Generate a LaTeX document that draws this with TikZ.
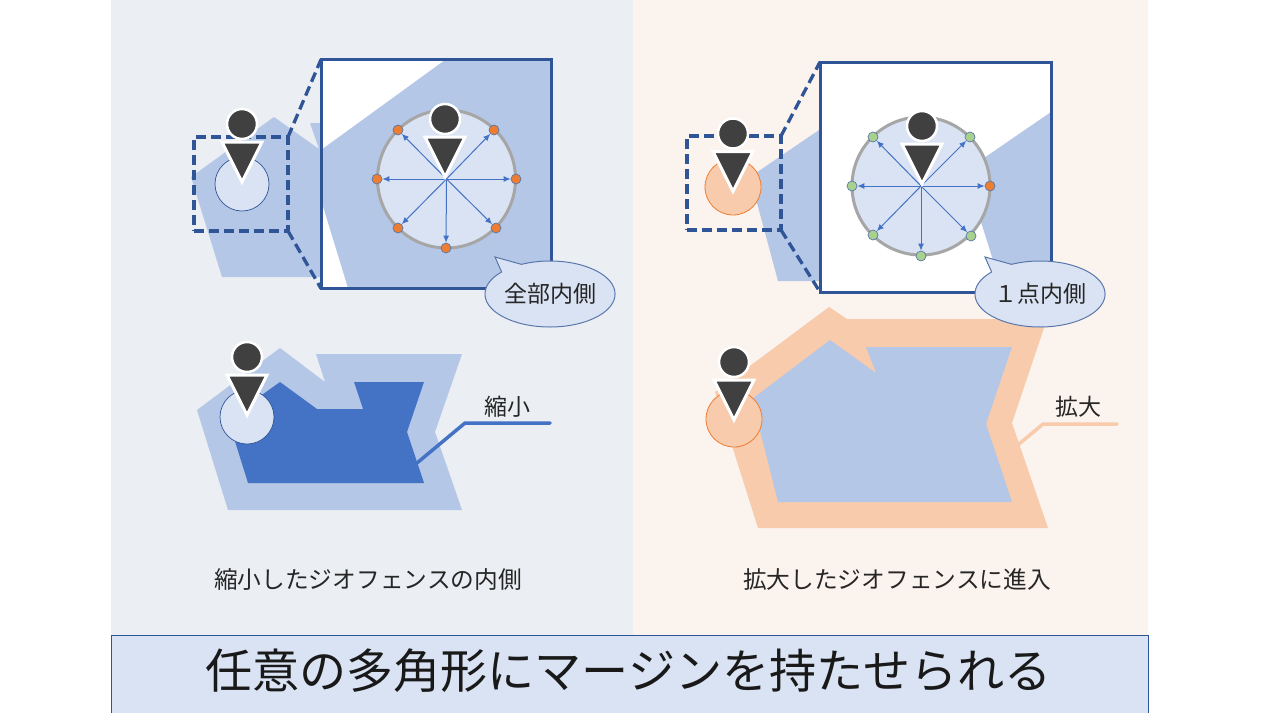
\documentclass[tikz,border=0pt]{standalone}
\usepackage{fontspec}
\setmainfont{Noto Sans CJK JP}
\usetikzlibrary{arrows.meta,shapes.callouts}
\definecolor{panelL}{HTML}{EBEEF3}
\definecolor{panelR}{HTML}{FBF3EE}
\definecolor{zone}{HTML}{B4C7E7}
\definecolor{pale}{HTML}{DAE3F3}
\definecolor{navy}{HTML}{2F5597}
\definecolor{vivid}{HTML}{4472C4}
\definecolor{peach}{HTML}{F8CBAD}
\definecolor{tang}{HTML}{ED7D31}
\definecolor{leaf}{HTML}{A9D18E}
\definecolor{ink}{HTML}{404040}
\newcommand{\txtsize}{\fontsize{23}{28}\selectfont}
\newcommand{\capsize}{\fontsize{23.7}{28}\selectfont}
\newcommand{\person}[3]{
    \node[headdot] (head#1) at (#2,#3-58) {};
    \draw[bodytri] (#2-20,#3-40)--(#2+20,#3-40)--(#2,#3)--cycle;
}
\tikzset{
    lensbox/.style={draw=navy,line width=3.3pt,dash pattern=on 10pt off 5pt,minimum size=94pt,inner sep=0pt,outer sep=0pt},
    zoombox/.style={draw=navy,line width=3pt,inner sep=0pt,outer sep=0pt},
    lensline/.style={draw=navy,line width=3.3pt,dash pattern=on 10pt off 5pt},
    headdot/.style={circle,fill=ink,draw=white,line width=2.5pt,minimum size=30pt,inner sep=0pt},
    bodytri/.style={fill=ink,draw=white,line width=3pt,miter limit=10},
    pale circle/.style={circle,fill=pale,draw=navy,line width=0.7pt,minimum size=54pt,inner sep=0pt},
    peach circle/.style={circle,fill=peach,draw=tang,line width=0.8pt,minimum size=56pt,inner sep=0pt},
    big circle/.style={circle,fill=pale,draw=black!35,line width=3pt,minimum size=138pt,inner sep=0pt},
    probe/.style={circle,draw=navy!80,line width=0.7pt,minimum size=10pt,inner sep=0pt},
    ray/.style={-{Latex[length=7pt,width=6pt]},draw=vivid,line width=1pt},
    bubble/.style={ellipse callout,draw=navy!80,fill=pale,line width=1pt,minimum width=130pt,minimum height=66pt,inner sep=0pt,callout pointer arc=22,font=\txtsize,text=black!85},
    label/.style={font=\capsize,text=black!85},
    tag/.style={font=\txtsize,text=black!85},
}
\begin{document}
\begin{tikzpicture}[x=1pt,y=-1pt]
    \useasboundingbox (0,0) rectangle (1265,712);
    \fill[white] (0,0) rectangle (1265,712);
    \fill[panelL] (111,0) rectangle (633,635);
    \fill[panelR] (633,0) rectangle (1148,635);
    % left, upper
    \fill[zone] (274,117)--(319,149)--(310,123)--(322,123)--(322,277)--(222,277)--(191,177)--cycle;
    \node[pale circle] (spotA) at (242,184) {};
    \node[lensbox] (lensA) at (241,184) {};
    \person{A}{242}{182}
    \node[zoombox,fill=white,minimum width=230pt,minimum height=229pt] (zoomA) at (436,174) {};
    \fill[zone] (321,150)--(445,60)--(551,60)--(551,288)--(348,288)--(322,203)--cycle;
    \node[zoombox,minimum width=230pt,minimum height=229pt] (frameA) at (436,174) {};
    \draw[lensline] (lensA.north east)--(zoomA.north west);
    \draw[lensline] (lensA.south east)--(zoomA.south west);
    \node[big circle] (ringA) at (446.5,179) {};
    \coordinate (cenA) at (446.5,179);
    \foreach \n/\x/\y in {1/398/130,2/494/130,3/377/179,4/516/179,5/398/228,6/496/228,7/446/248}{
        \node[probe,fill=tang] (dotA\n) at (\x,\y) {};
        \draw[ray] (cenA)--(dotA\n);
    }
    \person{B}{445}{177}
    \node[bubble,callout absolute pointer={(495,257)}] (noteA) at (550,294) {全部内側};
    % left, lower
    \fill[zone] (280,348)--(325,382)--(316,354)--(462,354)--(435,432)--(462,510)--(228,510)--(197,410)--cycle;
    \fill[vivid] (280,382)--(317,409)--(363,409)--(354,382)--(424,382)--(407,432)--(424,483)--(248,483)--(228,419)--cycle;
    \coordinate (tailC) at (417,463);
    \coordinate (bendC) at (465,423);
    \coordinate (endC) at (550,423);
    \draw[vivid,line width=3.5pt,line cap=round,line join=round] (tailC)--(bendC)--(endC);
    \node[tag] (shrink) at (507,407) {縮小};
    \node[pale circle] (spotC) at (247,417) {};
    \person{C}{247}{415}
    \node[label] (capA) at (368,579) {縮小したジオフェンスの内側};
    % right, upper
    \fill[zone] (822,128)--(750,177)--(778,281)--(822,281)--cycle;
    \node[peach circle] (spotD) at (733,187) {};
    \node[lensbox] (lensD) at (734,183) {};
    \person{D}{733}{191.5}
    \node[zoombox,fill=white,minimum width=231pt,minimum height=230pt] (zoomD) at (935.5,177) {};
    \fill[zone] (1051,112)--(965,171)--(1003,292)--(1051,292)--cycle;
    \node[zoombox,minimum width=231pt,minimum height=230pt] (frameD) at (935.5,177) {};
    \draw[lensline] (lensD.north east)--(zoomD.north west);
    \draw[lensline] (lensD.south east)--(zoomD.south west);
    \node[big circle] (ringD) at (921,186) {};
    \coordinate (cenD) at (921,186);
    \foreach \n/\x/\y/\c in {1/873/137/leaf,2/970/137/leaf,3/852/186/leaf,4/990/186/tang,5/873/235/leaf,6/971/236/leaf,7/921/256/leaf}{
        \node[probe,fill=\c] (dotD\n) at (\x,\y) {};
        \draw[ray] (cenD)--(dotD\n);
    }
    \person{E}{922}{184}
    % right, lower
    \fill[peach] (829,307)--(847,319)--(1047,319)--(1012,423)--(1048,528)--(758,528)--(715,392)--cycle;
    \fill[zone] (830,340)--(876,373)--(866,347)--(1012,347)--(986,424)--(1012,502)--(778,502)--(752,399)--cycle;
    \coordinate (tailF) at (1019,444);
    \coordinate (bendF) at (1043,424);
    \coordinate (endF) at (1117,424);
    \draw[peach,line width=3.5pt,line cap=round,line join=round] (tailF)--(bendF)--(endF);
    \node[tag] (grow) at (1078,407) {拡大};
    \node[peach circle] (spotF) at (734,419) {};
    \person{F}{734}{420}
    \node[bubble,callout absolute pointer={(985,257)}] (noteD) at (1040,294) {１点内側};
    \node[label] (capD) at (897,579) {拡大したジオフェンスに進入};
    % title bar
    \node[draw=navy,fill=pale,line width=0.7pt,minimum width=1037pt,minimum height=82pt,inner sep=0pt,outer sep=0pt] (titlebar) at (629.5,676) {};
    \node[font=\fontsize{47.1}{56}\selectfont,text=black!90] (title) at (628.5,670.5) {任意の多角形にマージンを持たせられる};
\end{tikzpicture}
\end{document}
